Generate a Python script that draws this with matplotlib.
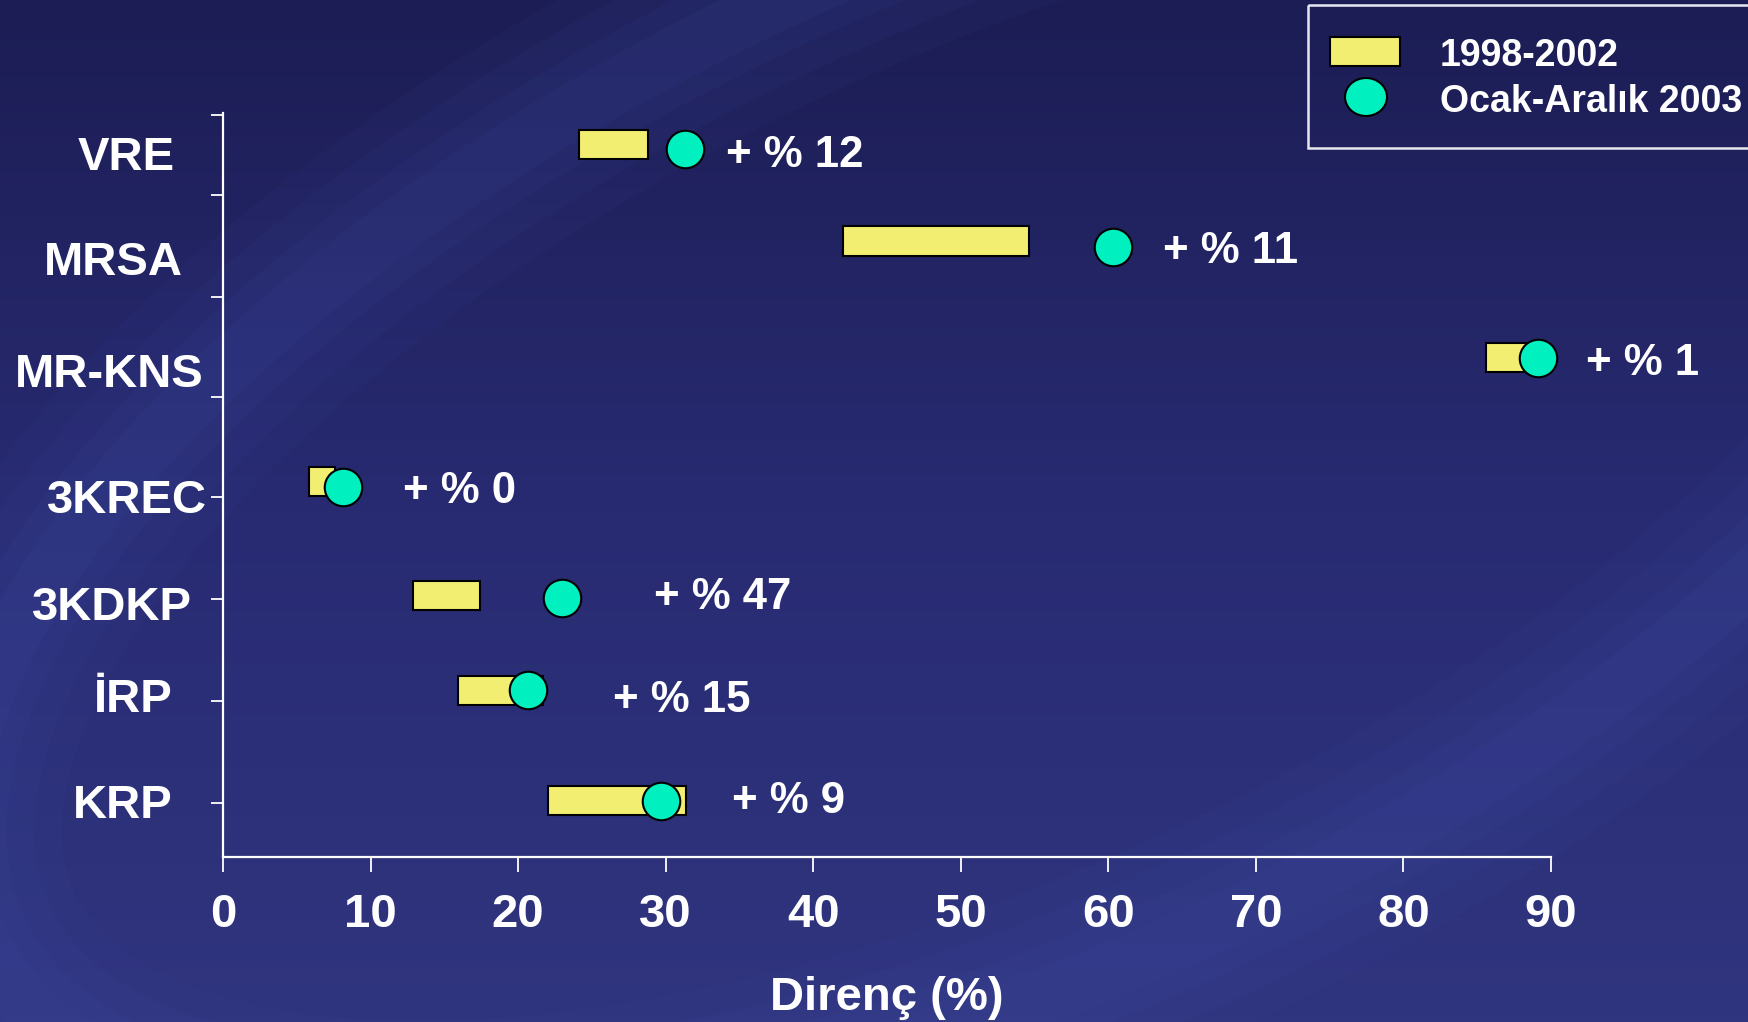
import numpy as np
import matplotlib
matplotlib.use("Agg")
import matplotlib.pyplot as plt
from matplotlib.patches import Rectangle, Ellipse
from matplotlib.colors import LinearSegmentedColormap

plt.rcParams['font.family'] = ['Liberation Sans', 'DejaVu Sans']
plt.rcParams['font.weight'] = 'bold'

# resistance data (%)
categories = ['VRE', 'MRSA', 'MR-KNS', '3KREC', '3KDKP', 'İRP', 'KRP']
range_low = [24.1, 42.0, 85.6, 5.8, 12.9, 15.9, 22.0]     # 1998-2002 lower end
range_high = [28.8, 54.6, 88.6, 7.6, 17.4, 21.7, 31.4]    # 1998-2002 upper end
val_2003 = [31.3, 60.3, 89.1, 8.1, 23.0, 20.7, 29.7]      # Ocak-Aralık 2003
change_labels = ['+ % 12', '+ % 11', '+ % 1', '+ % 0', '+ % 47', '+ % 15', '+ % 9']
x_ticks = [0, 10, 20, 30, 40, 50, 60, 70, 80, 90]

# layout of the rows (y in axis units, bottom = 0)
bar_y = [6.99, 6.04, 4.90, 3.68, 2.56, 1.63, 0.55]
dot_y = [6.94, 5.98, 4.89, 3.63, 2.54, 1.63, 0.55]
row_ticks = [0.53, 1.53, 2.53, 3.53, 4.51, 5.49, 6.49, 7.28]
name_base = [6.74, 5.71, 4.61, 3.37, 2.32, 1.42, 0.38]
name_gap = [48, 40, 19, 16, 31, 50, 50]          # px left of the axis
note_x = [34.1, 63.7, 92.4, 12.2, 29.2, 26.4, 34.5]
note_base = [6.77, 5.82, 4.73, 3.47, 2.43, 1.42, 0.43]

W, H = 1749, 1022
fig = plt.figure(figsize=(W / 100, H / 100), dpi=100)

# background: navy gradient with a soft swoosh
bg = fig.add_axes([0, 0, 1, 1])
bg.set_xlim(0, W)
bg.set_ylim(0, H)
bg.axis('off')
cmap = LinearSegmentedColormap.from_list('navy', ['#30357f', '#282b72', '#1c1d54'])
grad = np.linspace(0, 1, 256).reshape(-1, 1)
bg.imshow(grad, extent=[0, W, 0, H], cmap=cmap, aspect='auto', origin='lower', zorder=0)
for lw, a in [(150, 0.05), (110, 0.06), (70, 0.07), (40, 0.08)]:
    bg.add_patch(Ellipse((1000, 560), 2250, 1020, angle=25, fill=False,
                         edgecolor='#4a5ab8', lw=lw, alpha=a, zorder=1))

ax = fig.add_axes([223 / W, 165.4 / H, 1328 / W, 744 / H])
ax.patch.set_alpha(0)

ax.barh(bar_y, np.array(range_high) - np.array(range_low), left=range_low,
        height=0.285, color='#f2ee72', edgecolor='black', linewidth=1.5, zorder=3)
ax.plot(val_2003, dot_y, linestyle='none', marker='o', markersize=27,
        markerfacecolor='#00f0c0', markeredgecolor='black', markeredgewidth=1.5,
        zorder=4, clip_on=False)

for x, y, s in zip(note_x, note_base, change_labels):
    ax.text(x, y, s, color='white', fontsize=31.5, fontweight='bold',
            ha='left', va='baseline', clip_on=False)

for name, y, gap in zip(categories, name_base, name_gap):
    ax.annotate(name, xy=(0, y), xycoords=('axes fraction', 'data'),
                xytext=(-gap * 0.72, 0), textcoords='offset points',
                color='white', fontsize=34, fontweight='bold',
                ha='right', va='baseline')

ax.set_xlim(0, 90)
ax.set_ylim(0, 7.3)
ax.set_xticks(x_ticks)
ax.set_xticklabels([str(t) for t in x_ticks])
ax.set_yticks(row_ticks)
ax.set_yticklabels([])
ax.tick_params(axis='x', colors='white', length=11, width=1.3, pad=15, labelsize=34)
ax.tick_params(axis='y', colors='white', length=9, width=1.3)
for lab in ax.get_xticklabels():
    lab.set_fontweight('bold')
for side in ['top', 'right']:
    ax.spines[side].set_visible(False)
for side in ['left', 'bottom']:
    ax.spines[side].set_color('white')
    ax.spines[side].set_linewidth(1.6)
ax.set_xlabel('Direnç (%)', color='white', fontsize=34, fontweight='bold', labelpad=28)

# legend box in pixel space
lg = fig.add_axes([0, 0, 1, 1])
lg.set_xlim(0, W)
lg.set_ylim(H, 0)
lg.axis('off')
lg.patch.set_alpha(0)
lg.add_patch(Rectangle((1308, 5), 460, 143, fill=False, edgecolor='#e8e8f0', lw=1.8))
lg.add_patch(Rectangle((1330, 37), 70, 29, facecolor='#f2ee72', edgecolor='black', lw=1.5))
lg.add_patch(Ellipse((1366, 97), 42, 38, facecolor='#00f0c0', edgecolor='black', lw=1.5))
lg.text(1440, 56, '1998-2002', color='white', fontsize=27, fontweight='bold', va='center')
lg.text(1440, 102, 'Ocak-Aralık 2003', color='white', fontsize=27, fontweight='bold', va='center')

fig.savefig('out.png', dpi=100)
